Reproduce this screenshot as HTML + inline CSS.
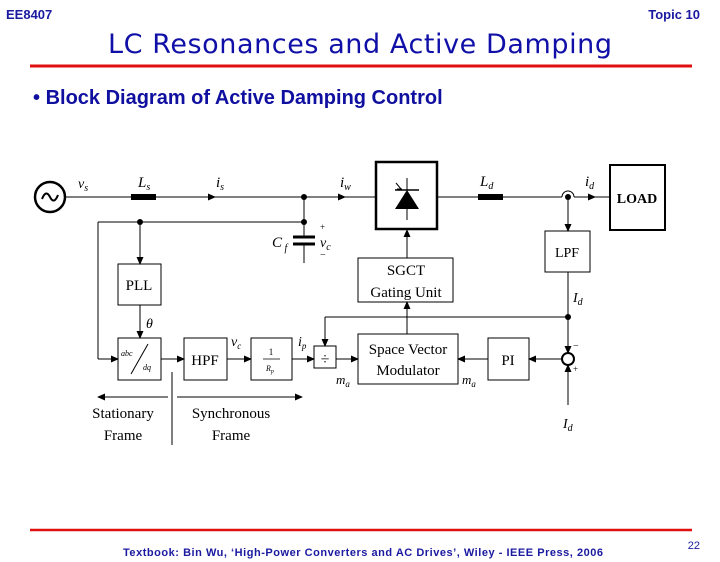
<!DOCTYPE html>
<html><head><meta charset="utf-8"><style>
body{margin:0;background:#fff;width:720px;height:562px;overflow:hidden}
svg{display:block}
.s{font-family:"Liberation Serif",serif;fill:#000}
.i{font-family:"Liberation Serif",serif;font-style:italic;fill:#000}
</style></head><body>
<svg width="720" height="562" viewBox="0 0 720 562" xmlns="http://www.w3.org/2000/svg">
<defs><marker id="a" markerWidth="8" markerHeight="8" refX="7" refY="4" orient="auto" markerUnits="userSpaceOnUse"><path d="M0,0.5 L8,4 L0,7.5z" fill="#000"/></marker></defs>
<text x="6" y="19" font-family="Liberation Sans,sans-serif" font-weight="bold" font-size="13" fill="#1a1aa0">EE8407</text>
<text x="700" y="19" text-anchor="end" font-family="Liberation Sans,sans-serif" font-weight="bold" font-size="13" fill="#1a1aa0">Topic 10</text>
<text x="360" y="53" text-anchor="middle" font-family="DejaVu Sans,sans-serif" font-size="27" fill="#1010a8" textLength="504">LC Resonances and Active Damping</text>
<line x1="30" y1="66" x2="692" y2="66" stroke="#e01010" stroke-width="3"/>
<text x="33" y="104" font-family="Liberation Sans,sans-serif" font-weight="bold" font-size="20" fill="#1010a0">• <tspan>Block Diagram of Active Damping Control</tspan></text>
<g stroke="#000" stroke-width="1" fill="none">
<circle cx="50" cy="197" r="15" stroke-width="2.5"/>
<path d="M42,199 q4,-10 8,-2 q4,8 8,-2" stroke-width="2"/>
<line x1="65" y1="197" x2="376" y2="197"/>
<line x1="131" y1="197" x2="156" y2="197" stroke-width="6"/>
<line x1="190" y1="197" x2="215" y2="197" marker-end="url(#a)"/>
<line x1="320" y1="197" x2="345" y2="197" marker-end="url(#a)"/>
<rect x="376" y="162" width="61" height="67" stroke-width="2.5"/>
<line x1="407" y1="178" x2="407" y2="220"/>
<line x1="397" y1="189" x2="402" y2="189"/><line x1="396" y1="183" x2="401" y2="189"/>
<line x1="437" y1="197" x2="562" y2="197"/>
<line x1="478" y1="197" x2="503" y2="197" stroke-width="6"/>
<path d="M562,197 a6,6 0 0 1 12,0"/>
<line x1="574" y1="197" x2="610" y2="197"/>
<line x1="580" y1="197" x2="595" y2="197" marker-end="url(#a)"/>
<rect x="610" y="165" width="55" height="65" stroke-width="2"/>
<line x1="304" y1="197" x2="304" y2="237"/>
<line x1="293" y1="237" x2="315" y2="237" stroke-width="3"/>
<line x1="293" y1="244" x2="315" y2="244" stroke-width="3"/>
<line x1="304" y1="244" x2="304" y2="263"/>
<line x1="98" y1="222" x2="304" y2="222"/>
<line x1="98" y1="222" x2="98" y2="359"/>
<line x1="98" y1="359" x2="118" y2="359" marker-end="url(#a)"/>
<line x1="140" y1="222" x2="140" y2="264" marker-end="url(#a)"/>
<rect x="118" y="264" width="43" height="41"/>
<line x1="140" y1="305" x2="140" y2="338" marker-end="url(#a)"/>
<rect x="118" y="338" width="43" height="42"/>
<line x1="131" y1="374" x2="148" y2="344"/>
<line x1="161" y1="359" x2="184" y2="359" marker-end="url(#a)"/>
<rect x="184" y="338" width="43" height="42"/>
<line x1="227" y1="359" x2="251" y2="359" marker-end="url(#a)"/>
<rect x="251" y="338" width="41" height="42"/>
<line x1="263" y1="359" x2="280" y2="359" stroke-width="0.8"/>
<line x1="292" y1="359" x2="314" y2="359" marker-end="url(#a)"/>
<rect x="314" y="346" width="22" height="22"/>
<line x1="336" y1="359" x2="358" y2="359" marker-end="url(#a)"/>
<rect x="358" y="334" width="100" height="50"/>
<line x1="488" y1="359" x2="458" y2="359" marker-end="url(#a)"/>
<rect x="488" y="338" width="41" height="42"/>
<line x1="562" y1="359" x2="529" y2="359" marker-end="url(#a)"/>
<circle cx="568" cy="359" r="6" stroke-width="2"/>
<line x1="568" y1="405" x2="568" y2="365" marker-end="url(#a)"/>
<line x1="568" y1="197" x2="568" y2="231" marker-end="url(#a)"/>
<rect x="545" y="231" width="45" height="41"/>
<line x1="568" y1="272" x2="568" y2="353" marker-end="url(#a)"/>
<line x1="568" y1="317" x2="325" y2="317"/>
<line x1="325" y1="317" x2="325" y2="346" marker-end="url(#a)"/>
<line x1="407" y1="334" x2="407" y2="302" marker-end="url(#a)"/>
<rect x="358" y="258" width="95" height="44"/>
<line x1="407" y1="258" x2="407" y2="230" marker-end="url(#a)"/>
<line x1="168" y1="397" x2="98" y2="397" marker-end="url(#a)"/>
<line x1="177" y1="397" x2="302" y2="397" marker-end="url(#a)"/>
<line x1="172" y1="372" x2="172" y2="445"/>
</g>
<path d="M395,209 L419,209 L407,190z" fill="#000"/>
<line x1="395" y1="190" x2="419" y2="190" stroke="#000" stroke-width="1.5"/>
<g fill="#000"><circle cx="304" cy="197" r="3"/><circle cx="304" cy="222" r="3"/><circle cx="140" cy="222" r="3"/><circle cx="568" cy="197" r="3"/><circle cx="568" cy="317" r="3"/></g>
<text class="i" x="78" y="188" font-size="14">v<tspan font-size="10" dy="3">s</tspan></text>
<text class="i" x="138" y="187" font-size="15">L<tspan font-size="10" dy="3">s</tspan></text>
<text class="i" x="216" y="187" font-size="15">i<tspan font-size="10" dy="3">s</tspan></text>
<text class="i" x="340" y="187" font-size="15">i<tspan font-size="10" dy="3">w</tspan></text>
<text class="i" x="480" y="186" font-size="15">L<tspan font-size="10" dy="3">d</tspan></text>
<text class="i" x="585" y="186" font-size="15">i<tspan font-size="10" dy="3">d</tspan></text>
<text class="s" x="637" y="203" text-anchor="middle" font-size="14" font-weight="bold">LOAD</text>
<text class="i" x="272" y="247" font-size="15">C<tspan font-size="10" dy="4"> f</tspan></text>
<text class="s" x="320" y="230" font-size="9">+</text>
<text class="i" x="320" y="247" font-size="14">v<tspan font-size="10" dy="3">c</tspan></text>
<text class="s" x="320" y="258" font-size="10">−</text>
<text class="s" x="139" y="290" text-anchor="middle" font-size="15">PLL</text>
<text class="i" x="146" y="328" font-size="14">θ</text>
<text class="i" x="121" y="356" font-size="8">abc</text>
<text class="i" x="143" y="370" font-size="8">dq</text>
<text class="s" x="205" y="365" text-anchor="middle" font-size="15">HPF</text>
<text class="s" x="271" y="355" text-anchor="middle" font-size="9">1</text>
<text class="i" x="266" y="371" font-size="8">R<tspan font-size="6" dy="2">p</tspan></text>
<text class="i" x="231" y="346" font-size="14">v<tspan font-size="9" dy="3">c</tspan></text>
<text class="i" x="298" y="346" font-size="14">i<tspan font-size="9" dy="3">p</tspan></text>
<text class="s" x="325" y="364" text-anchor="middle" font-size="16">÷</text>
<text class="s" x="408" y="354" text-anchor="middle" font-size="15">Space Vector</text>
<text class="s" x="408" y="375" text-anchor="middle" font-size="15">Modulator</text>
<text class="s" x="406" y="275" text-anchor="middle" font-size="15">SGCT</text>
<text class="s" x="406" y="297" text-anchor="middle" font-size="15">Gating Unit</text>
<text class="s" x="567" y="257" text-anchor="middle" font-size="14">LPF</text>
<text class="i" x="573" y="302" font-size="14">I<tspan font-size="10" dy="3">d</tspan></text>
<text class="s" x="508" y="365" text-anchor="middle" font-size="15">PI</text>
<text class="i" x="336" y="384" font-size="13">m<tspan font-size="9" dy="3">a</tspan></text>
<text class="i" x="462" y="384" font-size="13">m<tspan font-size="9" dy="3">a</tspan></text>
<text class="s" x="573" y="349" font-size="10">−</text>
<text class="s" x="573" y="372" font-size="9">+</text>
<text class="i" x="563" y="428" font-size="14">I<tspan font-size="10" dy="3">d</tspan></text>
<text class="s" x="123" y="418" text-anchor="middle" font-size="15">Stationary</text>
<text class="s" x="123" y="440" text-anchor="middle" font-size="15">Frame</text>
<text class="s" x="231" y="418" text-anchor="middle" font-size="15">Synchronous</text>
<text class="s" x="231" y="440" text-anchor="middle" font-size="15">Frame</text>
<line x1="30" y1="530" x2="692" y2="530" stroke="#e01010" stroke-width="2.5"/>
<text x="363" y="556" text-anchor="middle" font-family="Liberation Sans,sans-serif" font-weight="bold" font-size="11" fill="#1a1aa0" textLength="480">Textbook: Bin Wu, ‘High-Power Converters and AC Drives’, Wiley - IEEE Press, 2006</text>
<text x="700" y="549" text-anchor="end" font-family="Liberation Sans,sans-serif" font-size="11" fill="#1a1aa0">22</text>
</svg>
</body></html>
